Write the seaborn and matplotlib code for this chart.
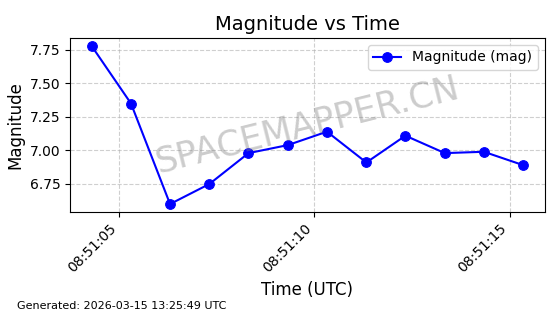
import matplotlib
matplotlib.use("Agg")
import matplotlib.pyplot as plt
import matplotlib.dates as mdates
import seaborn as sns
import pandas as pd

times = ["08:51:04.29", "08:51:05.30", "08:51:06.30", "08:51:07.31", "08:51:08.31",
         "08:51:09.32", "08:51:10.32", "08:51:11.33", "08:51:12.33", "08:51:13.34",
         "08:51:14.34", "08:51:15.35"]
magnitudes = [7.78, 7.35, 6.60, 6.75, 6.98, 7.04, 7.14, 6.91, 7.11, 6.98, 6.99, 6.89]

df = pd.DataFrame({
    "time": pd.to_datetime(["2026-03-15 " + t for t in times]),
    "mag": magnitudes,
})

fig = plt.figure(figsize=(5.6, 3.14), dpi=100)
ax = fig.add_axes([0.125, 0.325, 0.848, 0.554])

sns.lineplot(data=df, x="time", y="mag", ax=ax, color="blue", marker="o",
             markersize=7, markeredgecolor="blue", linewidth=1.5,
             label="Magnitude (mag)")

ax.set_title("Magnitude vs Time", fontsize=14)
ax.set_xlabel("Time (UTC)", fontsize=12)
ax.set_ylabel("Magnitude", fontsize=12)
ax.grid(True, linestyle="--", alpha=0.6)
ax.xaxis.set_major_locator(mdates.SecondLocator(bysecond=range(0, 60, 5)))
ax.xaxis.set_major_formatter(mdates.DateFormatter("%H:%M:%S"))
plt.setp(ax.get_xticklabels(), rotation=45, ha="right")
ax.set_yticks([6.75, 7.00, 7.25, 7.50, 7.75])
ax.legend(loc="upper right")

ax.text(0.5, 0.5, "SPACEMAPPER.CN", transform=ax.transAxes, fontsize=25,
        color="gray", alpha=0.4, ha="center", va="center", rotation=14)

fig.text(0.03, 0.015, "Generated: 2026-03-15 13:25:49 UTC", fontsize=8)

fig.savefig("out.png", dpi=100)
